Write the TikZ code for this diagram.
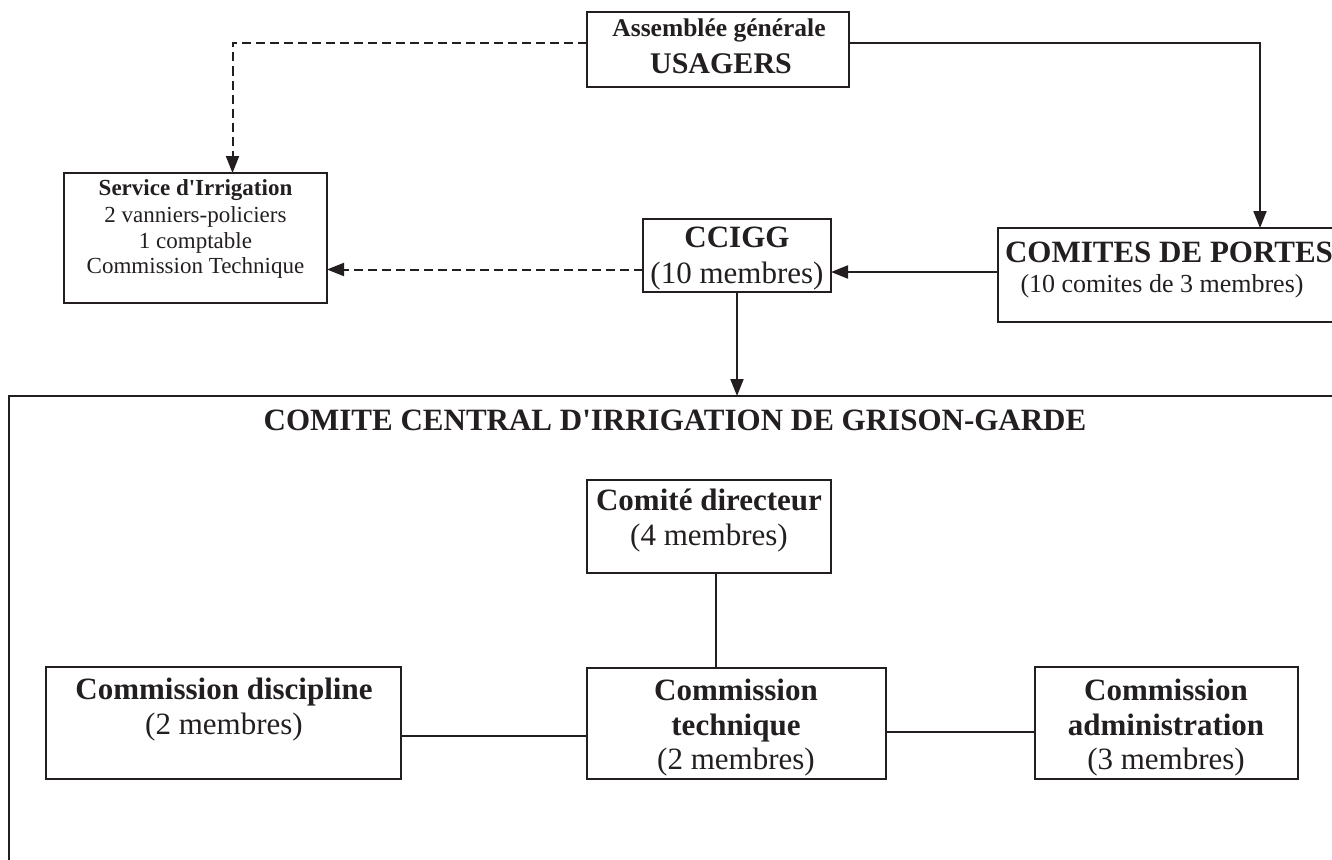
\documentclass[tikz,border=0pt]{standalone}
\usepackage{fontspec}
\setmainfont{Liberation Serif}[Ligatures=TeXOff]
\usetikzlibrary{arrows.meta}
\definecolor{ink}{RGB}{35,31,32}

\begin{document}
\begin{tikzpicture}[x=1pt,y=-1pt,
  box/.style={draw=ink, line width=2.4pt, anchor=north west, inner sep=0pt, outer sep=0pt},
  lbl/.style={anchor=base, inner sep=0pt, text=ink},
  link/.style={draw=ink, line width=2pt},
  dashlink/.style={link, dash pattern=on 9pt off 5pt},
  tip/.style={-{Triangle[length=17pt,width=13pt]}},
  big/.style={font=\fontsize{31}{36}\selectfont\bfseries},
  bigr/.style={font=\fontsize{31}{36}\selectfont},
]
\useasboundingbox (0,0) rectangle (1332,859);
\clip (0,0) rectangle (1332,859);

% frames
\node[box, minimum width=262pt, minimum height=75pt] (assem) at (587,12) {};
\node[box, minimum width=263pt, minimum height=130pt] (service) at (64,173) {};
\node[box, minimum width=188pt, minimum height=73pt] (ccigg) at (643,219) {};
\node[box, minimum width=360pt, minimum height=94pt] (comites) at (998,228) {};
\node[box, line width=2.6pt, minimum width=1340pt, minimum height=480pt] (ccig) at (9,396) {};
\node[box, minimum width=244pt, minimum height=93pt] (dir) at (587,480) {};
\node[box, minimum width=355pt, minimum height=112pt] (disc) at (46,667) {};
\node[box, minimum width=299pt, minimum height=111pt] (tech) at (587,668) {};
\node[box, minimum width=263pt, minimum height=112pt] (admin) at (1035,667) {};

% texts
\node[lbl, font=\fontsize{25.5}{30}\selectfont\bfseries] (assemA) at (719,37) {Assemblée générale};
\node[lbl, font=\fontsize{30}{34}\selectfont\bfseries] (assemB) at (721,74) {USAGERS};

\node[lbl, font=\fontsize{23}{26}\selectfont\bfseries] (servA) at (195.5,195) {Service d'Irrigation};
\node[lbl, font=\fontsize{23}{26}\selectfont] (servB) at (195.5,222) {2 vanniers-policiers};
\node[lbl, font=\fontsize{23}{26}\selectfont] (servC) at (195.5,248) {1 comptable};
\node[lbl, font=\fontsize{23}{26}\selectfont] (servD) at (195.5,273) {Commission Technique};

\node[lbl, big] (cciggA) at (737,247) {CCIGG};
\node[lbl, bigr] (cciggB) at (737,283) {(10 membres)};

\node[lbl, big] (comA) at (1169,262) {COMITES DE PORTES};
\node[lbl, font=\fontsize{26}{30}\selectfont] (comB) at (1162,292) {(10 comites de 3 membres)};

\node[lbl, big] (ccigT) at (675,430) {COMITE CENTRAL D'IRRIGATION DE GRISON-GARDE};

\node[lbl, big] (dirA) at (709,510) {Comité directeur};
\node[lbl, bigr] (dirB) at (709,545) {(4 membres)};

\node[lbl, big] (discA) at (224,699) {Commission discipline};
\node[lbl, bigr] (discB) at (224,734) {(2 membres)};

\node[lbl, big] (techA) at (736,700) {Commission};
\node[lbl, big] (techB) at (736,735) {technique};
\node[lbl, bigr] (techC) at (736,769) {(2 membres)};

\node[lbl, big] (adminA) at (1166,700) {Commission};
\node[lbl, big] (adminB) at (1166,735) {administration};
\node[lbl, bigr] (adminC) at (1166,769) {(3 membres)};

% connectors
\draw[dashlink, tip] ([yshift=6.5pt]assem.west) -| ([xshift=37pt]service.north);
\draw[link, tip] ([yshift=6.5pt]assem.east) -| ([xshift=262pt]comites.north west);
\draw[link, tip] ([yshift=3pt]comites.west) -- ([yshift=3pt]comites.west -| ccigg.east);
\draw[dashlink, tip] ([yshift=-14pt]ccigg.west) -- ([yshift=-14pt]ccigg.west -| service.east);
\draw[link, tip] (ccigg.south) -- (ccigg.south |- ccig.north);
\draw[link] ([xshift=7pt]dir.south) -- ([xshift=7pt]dir.south |- tech.north);
\draw[link] ([yshift=-13pt]disc.east) -- ([yshift=-13pt]disc.east -| tech.west);
\draw[link] ([yshift=-8pt]tech.east) -- ([yshift=-8pt]tech.east -| admin.west);
\end{tikzpicture}
\end{document}
